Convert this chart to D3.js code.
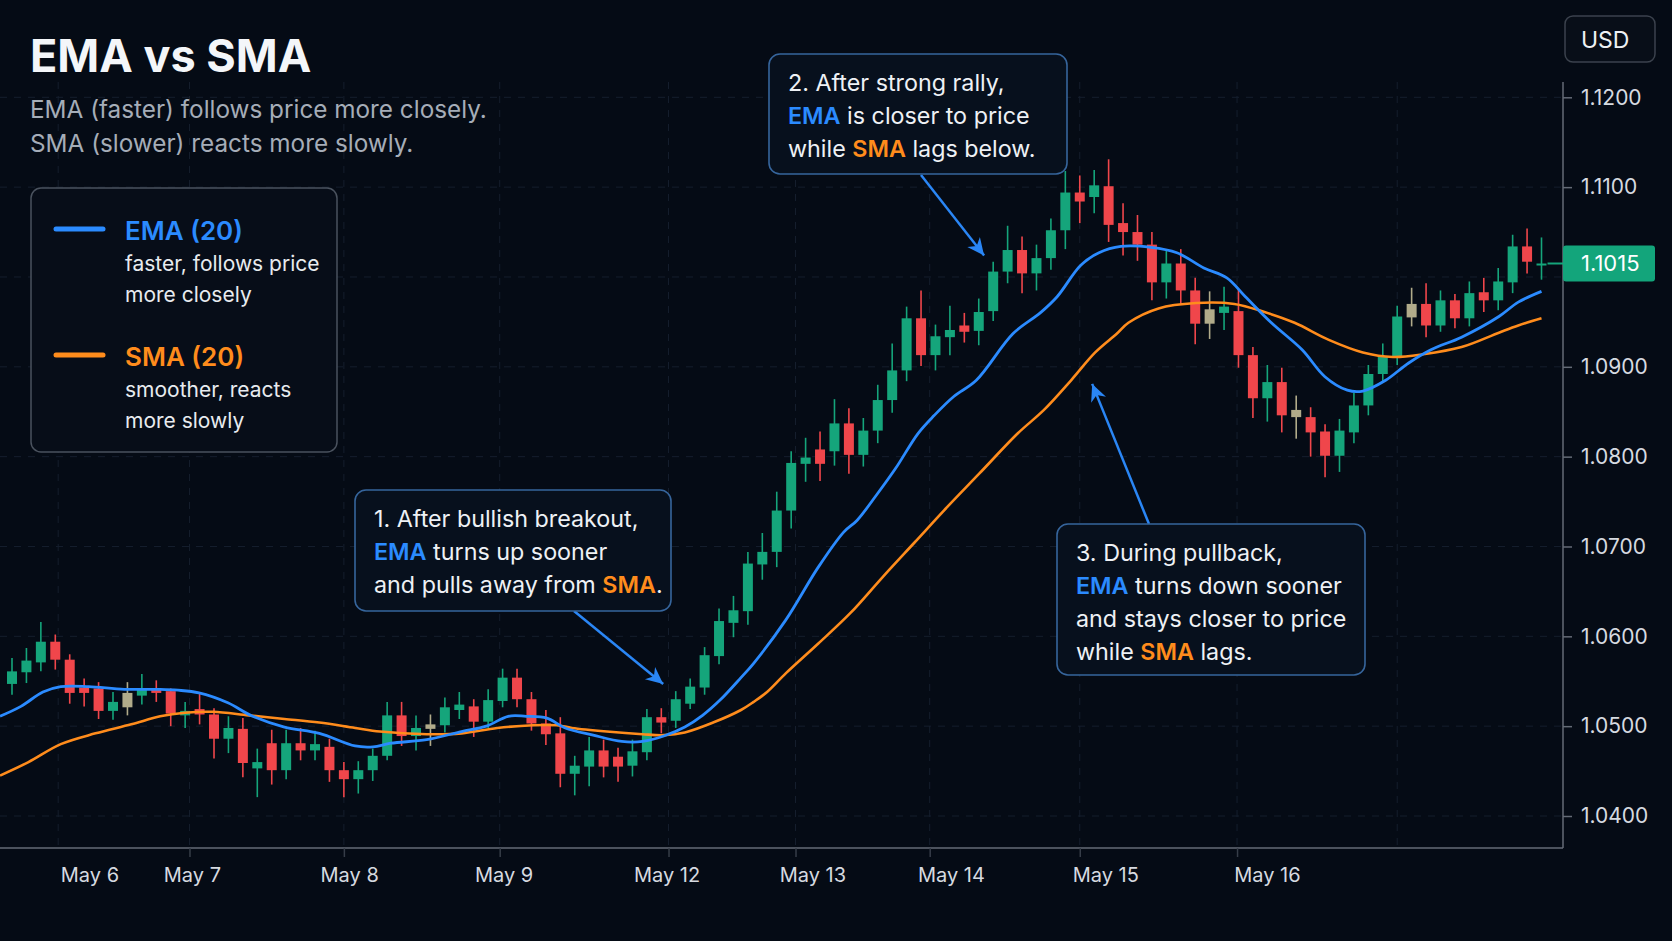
<!DOCTYPE html>
<html>
<head>
<meta charset="utf-8">
<script src="https://cdn.jsdelivr.net/npm/d3@7"></script>
<style>
  html, body { margin: 0; padding: 0; background: #050b15; }
  svg text { font-family: Inter, "Noto Sans", Roboto, sans-serif; }
</style>
</head>
<body>
<svg id="chart" width="1672" height="941"></svg>
<script>
// ---- data (EUR/USD style, 1 candle per session slot) ----
var opens = [1.0547,1.0560,1.0571,1.0594,1.0574,1.0543,1.0542,1.0517,1.0521,1.0534,
  1.0542,1.0539,1.0512,1.0519,1.0513,1.0486,1.0497,1.0453,1.0481,1.0451,
  1.0481,1.0473,1.0477,1.0451,1.0441,1.0451,1.0467,1.0512,1.0489,1.0502,
  1.0501,1.0518,1.0522,1.0505,1.0528,1.0554,1.0530,1.0503,1.0492,1.0447,
  1.0455,1.0473,1.0466,1.0456,1.0471,1.0510,1.0506,1.0525,1.0543,1.0578,
  1.0615,1.0628,1.0680,1.0694,1.0740,1.0792,1.0808,1.0806,1.0837,1.0802,
  1.0829,1.0863,1.0896,1.0954,1.0913,1.0933,1.0946,1.0940,1.0962,1.1006,
  1.1030,1.1004,1.1021,1.1052,1.1094,1.1089,1.1101,1.1060,1.1050,1.1036,
  1.0994,1.1015,1.0985,1.0948,1.0960,1.0962,1.0913,1.0865,1.0883,1.0852,
  1.0844,1.0828,1.0801,1.0827,1.0857,1.0892,1.0910,1.0955,1.0970,1.0946,
  1.0974,1.0954,1.0983,1.0974,1.0994,1.1034,1.1013];
var highs = [1.0576,1.0587,1.0616,1.0602,1.0580,1.0553,1.0549,1.0538,1.0549,1.0558,
  1.0551,1.0542,1.0527,1.0537,1.0520,1.0511,1.0509,1.0475,1.0496,1.0496,
  1.0498,1.0495,1.0486,1.0460,1.0461,1.0475,1.0527,1.0527,1.0512,1.0513,
  1.0532,1.0538,1.0530,1.0541,1.0564,1.0564,1.0538,1.0518,1.0510,1.0467,
  1.0488,1.0485,1.0476,1.0485,1.0519,1.0520,1.0539,1.0553,1.0588,1.0631,
  1.0645,1.0694,1.0715,1.0761,1.0806,1.0821,1.0828,1.0864,1.0854,1.0843,
  1.0880,1.0926,1.0967,1.0985,1.0947,1.0968,1.0960,1.0976,1.1017,1.1057,
  1.1045,1.1036,1.1065,1.1118,1.1113,1.1119,1.1131,1.1082,1.1069,1.1050,
  1.1031,1.1031,1.0999,1.0984,1.0989,1.0987,1.0922,1.0902,1.0899,1.0868,
  1.0855,1.0836,1.0842,1.0871,1.0902,1.0926,1.0968,1.0988,1.0993,1.0985,
  1.0981,1.0995,1.0999,1.1010,1.1047,1.1054,1.1044];
var lows = [1.0535,1.0548,1.0561,1.0563,1.0525,1.0522,1.0508,1.0507,1.0512,1.0524,
  1.0527,1.0500,1.0498,1.0502,1.0464,1.0470,1.0443,1.0421,1.0435,1.0441,
  1.0462,1.0462,1.0438,1.0421,1.0425,1.0439,1.0462,1.0478,1.0473,1.0478,
  1.0493,1.0508,1.0488,1.0498,1.0521,1.0521,1.0495,1.0479,1.0432,1.0423,
  1.0433,1.0443,1.0438,1.0444,1.0462,1.0492,1.0498,1.0519,1.0535,1.0569,
  1.0599,1.0613,1.0663,1.0677,1.0720,1.0772,1.0773,1.0790,1.0781,1.0789,
  1.0815,1.0849,1.0884,1.0901,1.0896,1.0913,1.0927,1.0924,1.0951,1.0993,
  1.0982,1.0985,1.1008,1.1031,1.1060,1.1071,1.1039,1.1024,1.1018,1.0974,
  1.0976,1.0970,1.0925,1.0931,1.0941,1.0899,1.0843,1.0839,1.0827,1.0820,
  1.0800,1.0777,1.0783,1.0815,1.0846,1.0882,1.0902,1.0945,1.0933,1.0939,
  1.0943,1.0945,1.0961,1.0963,1.0982,1.1004,1.0997];
var closes = [1.0561,1.0573,1.0594,1.0574,1.0537,1.0537,1.0517,1.0527,1.0537,1.0542,
  1.0537,1.0514,1.0517,1.0513,1.0486,1.0498,1.0459,1.0460,1.0451,1.0481,
  1.0473,1.0480,1.0451,1.0441,1.0451,1.0467,1.0512,1.0489,1.0498,1.0497,
  1.0521,1.0524,1.0505,1.0529,1.0554,1.0530,1.0503,1.0491,1.0447,1.0456,
  1.0473,1.0455,1.0455,1.0472,1.0510,1.0504,1.0530,1.0544,1.0579,1.0617,
  1.0629,1.0681,1.0694,1.0740,1.0793,1.0799,1.0792,1.0837,1.0802,1.0829,
  1.0863,1.0896,1.0954,1.0913,1.0934,1.0941,1.0939,1.0961,1.1006,1.1030,
  1.1004,1.1021,1.1052,1.1094,1.1084,1.1102,1.1058,1.1050,1.1036,1.0994,
  1.1015,1.0985,1.0948,1.0964,1.0967,1.0913,1.0865,1.0883,1.0846,1.0844,
  1.0827,1.0801,1.0829,1.0857,1.0892,1.0912,1.0956,1.0970,1.0946,1.0974,
  1.0954,1.0982,1.0974,1.0995,1.1034,1.1017,1.1015];
// candles drawn in the neutral khaki tone
var mutedCandles = [8, 29, 83, 89, 97];

// moving averages as traced: [candle index, price]
var emaPts = [[-0.83,1.0511],[0.62,1.0522],[2.14,1.0538],[3.38,1.0544],[5.31,1.0544],[7.79,1.0541],
  [10.27,1.0541],[11.51,1.0540],[12.96,1.0537],[14.96,1.0526],[16.68,1.0511],[18.88,1.0499],
  [21.3,1.0492],[23.78,1.0478],[25.02,1.0477],[26.26,1.0481],[28.74,1.0485],[31.15,1.0494],
  [32.87,1.0500],[34.39,1.0511],[35.63,1.0511],[37.07,1.0509],[38.34,1.0498],[40.28,1.0490],
  [42.26,1.0483],[43.7,1.0483],[45.17,1.0489],[46.63,1.0499],[47.86,1.0512],[49.07,1.0529],
  [50.52,1.0554],[51.4,1.0570],[53.62,1.0618],[55.88,1.0677],[57.64,1.0716],[58.56,1.0729],
  [59.9,1.0757],[61.24,1.0787],[62.8,1.0826],[63.92,1.0846],[65.27,1.0867],[66.83,1.0885],
  [69.38,1.0937],[71.26,1.0960],[72.43,1.0978],[74.07,1.1013],[75.33,1.1027],[76.85,1.1034],
  [78.93,1.1033],[80.73,1.1027],[82.6,1.1010],[84.19,1.0999],[85.48,1.0978],[87.28,1.0949],
  [89.41,1.0919],[90.99,1.0889],[92.54,1.0874],[93.62,1.0873],[95.2,1.0885],[96.77,1.0904],
  [98.34,1.0919],[100.46,1.0933],[103.05,1.0956],[104.39,1.0972],[106,1.0984]];
var smaPts = [[-0.83,1.0445],[1.14,1.0460],[3.38,1.0480],[5.79,1.0492],[8.27,1.0502],[10.27,1.0511],
  [11.99,1.0515],[13.92,1.0516],[16.4,1.0512],[18.88,1.0508],[21.3,1.0504],[23.78,1.0498],
  [25.5,1.0494],[28.74,1.0491],[31.15,1.0492],[33.63,1.0498],[36.11,1.0501],[37.75,1.0501],
  [38.81,1.0498],[41.22,1.0494],[43.7,1.0491],[45.17,1.0490],[46.63,1.0493],[48.59,1.0504],
  [50.52,1.0518],[51.4,1.0527],[52.33,1.0538],[53.64,1.0559],[55.88,1.0592],[58.11,1.0626],
  [60.34,1.0666],[62.58,1.0705],[64.82,1.0744],[67.03,1.0781],[69.71,1.0826],[71.52,1.0852],
  [73.4,1.0885],[75.07,1.0916],[76.58,1.0937],[77.37,1.0949],[79.46,1.0965],[82.05,1.0971],
  [84.71,1.0970],[86.8,1.0961],[88.89,1.0949],[91.26,1.0930],[93.62,1.0916],[95.71,1.0911],
  [97.8,1.0914],[100.46,1.0922],[103.05,1.0938],[104.39,1.0946],[106,1.0954]];

var dayLabels = ["May 6", "May 7", "May 8", "May 9", "May 12", "May 13", "May 14", "May 15", "May 16"];
var dayLabelIdx = [5.4, 12.5, 23.4, 34.1, 45.4, 55.5, 65.1, 75.8, 87.0];
var sessionIdx = [3.2, 12.3, 23.0, 33.8, 45.5, 54.3, 63.6, 74.0, 84.9, 96.0];
var yTicks = [1.04, 1.05, 1.06, 1.07, 1.08, 1.09, 1.10, 1.11, 1.12];
var lastPrice = 1.1015;

var emaColor = "#2b8bff", smaColor = "#ff8c1c";
var upColor = "#15a57b", downColor = "#f0464b", mutedColor = "#b1ab8a";

var svg = d3.select("#chart");
svg.append("rect").attr("width", 1672).attr("height", 941).attr("fill", "#050b15");

var plotRight = 1563, plotTop = 82, plotBottom = 848;
var x = d3.scaleLinear().domain([0, closes.length - 1]).range([12, 1541.5]);
var y = d3.scaleLinear().domain([1.04, 1.12]).range([816, 97.3]);

var defs = svg.append("defs");
defs.append("clipPath").attr("id", "plotclip")
  .append("rect").attr("x", 0).attr("y", plotTop).attr("width", plotRight).attr("height", plotBottom - plotTop);
defs.append("marker").attr("id", "arrowhead")
  .attr("viewBox", "-18 -9 20 18").attr("refX", 0).attr("refY", 0)
  .attr("markerWidth", 20).attr("markerHeight", 18)
  .attr("markerUnits", "userSpaceOnUse").attr("orient", "auto")
  .append("path").attr("d", "M0,0 L-17,-8 L-12,0 L-17,8 Z").attr("fill", "#2a86f5");

// grid
var grid = svg.append("g");
grid.selectAll(".hg").data(yTicks).join("line")
  .attr("x1", 0).attr("x2", plotRight)
  .attr("y1", function(d) { return y(d); }).attr("y2", function(d) { return y(d); })
  .attr("stroke", "#151e2d").attr("stroke-dasharray", "7,7").attr("stroke-width", 1);
grid.selectAll(".vg").data(sessionIdx).join("line")
  .attr("x1", function(d) { return x(d); }).attr("x2", function(d) { return x(d); })
  .attr("y1", plotTop).attr("y2", plotBottom)
  .attr("stroke", "#151e2d").attr("stroke-dasharray", "7,7").attr("stroke-width", 1);

// candles
var candles = d3.range(closes.length).map(function(i) {
  return {i: i, o: opens[i], h: highs[i], l: lows[i], c: closes[i]};
});
function candleColor(d) {
  if (mutedCandles.indexOf(d.i) >= 0) return mutedColor;
  return d.c >= d.o ? upColor : downColor;
}
var plot = svg.append("g").attr("clip-path", "url(#plotclip)");
var bodyW = 10;
plot.selectAll(".wick").data(candles).join("line")
  .attr("x1", function(d) { return x(d.i); }).attr("x2", function(d) { return x(d.i); })
  .attr("y1", function(d) { return y(d.h); }).attr("y2", function(d) { return y(d.l); })
  .attr("stroke", candleColor).attr("stroke-width", 1.6);
plot.selectAll(".body").data(candles).join("rect")
  .attr("x", function(d) { return x(d.i) - bodyW / 2; })
  .attr("width", bodyW)
  .attr("y", function(d) { return y(Math.max(d.o, d.c)); })
  .attr("height", function(d) { return Math.max(2, Math.abs(y(d.o) - y(d.c))); })
  .attr("fill", candleColor);

// moving averages
var line = d3.line()
  .x(function(d) { return x(d[0]); })
  .y(function(d) { return y(d[1]); })
  .curve(d3.curveCatmullRom.alpha(0.5));
plot.append("path").datum(smaPts).attr("d", line)
  .attr("fill", "none").attr("stroke", smaColor).attr("stroke-width", 2.6);
plot.append("path").datum(emaPts).attr("d", line)
  .attr("fill", "none").attr("stroke", emaColor).attr("stroke-width", 2.8);

// axes
var axisColor = "#646b76";
svg.append("line").attr("x1", plotRight).attr("x2", plotRight).attr("y1", plotTop).attr("y2", plotBottom)
  .attr("stroke", axisColor).attr("stroke-width", 1.5);
svg.append("line").attr("x1", 0).attr("x2", plotRight).attr("y1", plotBottom).attr("y2", plotBottom)
  .attr("stroke", axisColor).attr("stroke-width", 1.5);

var yAxis = svg.append("g").attr("transform", "translate(" + plotRight + ",0)")
  .call(d3.axisRight(y).tickValues(yTicks).tickFormat(d3.format(".4f")).tickSize(9).tickPadding(9));
yAxis.select(".domain").remove();
yAxis.selectAll(".tick line").attr("stroke", axisColor).attr("stroke-width", 1.5);
yAxis.selectAll(".tick text").attr("fill", "#d6dae0").attr("font-size", 21)
  .style("font-family", "Inter, 'Noto Sans', sans-serif");
yAxis.selectAll(".tick").filter(function(d) { return d === 1.10; }).select("text").remove();

// session ticks under the axis (none on the last, unlabelled session)
var xAxis = svg.append("g").attr("transform", "translate(0," + plotBottom + ")")
  .call(d3.axisBottom(x).tickValues(sessionIdx.slice(1, -1)).tickFormat("").tickSize(9));
xAxis.select(".domain").remove();
xAxis.selectAll(".tick line").attr("stroke", "#363d48").attr("stroke-width", 1.5);

svg.append("g").selectAll("text").data(dayLabels).join("text")
  .attr("x", function(d, k) { return x(dayLabelIdx[k]); })
  .attr("y", 882)
  .attr("text-anchor", "middle")
  .attr("font-size", 20).attr("fill", "#d6dae0")
  .text(function(d) { return d; });

// last price marker
var lastY = y(lastPrice);
svg.append("line").attr("x1", x(closes.length - 1) + 6).attr("x2", plotRight)
  .attr("y1", lastY).attr("y2", lastY).attr("stroke", upColor).attr("stroke-width", 2);
svg.append("rect").attr("x", plotRight).attr("y", lastY - 18).attr("width", 92).attr("height", 36)
  .attr("rx", 3).attr("fill", "#13a57b");
svg.append("text").attr("x", 1581).attr("y", lastY).attr("dy", "0.35em")
  .attr("font-size", 22).attr("fill", "#ffffff").text(d3.format(".4f")(lastPrice));

// currency box
svg.append("rect").attr("x", 1565).attr("y", 16).attr("width", 90).attr("height", 46).attr("rx", 8)
  .attr("fill", "#080e18").attr("stroke", "#3b424d").attr("stroke-width", 1.5);
svg.append("text").attr("x", 1581).attr("y", 48).attr("font-size", 23).attr("fill", "#eef1f4").text("USD");

// title
svg.append("text").attr("x", 30).attr("y", 72).attr("font-size", 45).attr("font-weight", 700)
  .attr("fill", "#f4f6f9").text("EMA vs SMA");
svg.append("text").attr("x", 30).attr("y", 118).attr("font-size", 24.3).attr("fill", "#a5adb8")
  .text("EMA (faster) follows price more closely.");
svg.append("text").attr("x", 30).attr("y", 152).attr("font-size", 24.3).attr("fill", "#a5adb8")
  .text("SMA (slower) reacts more slowly.");

// legend
var legend = svg.append("g");
legend.append("rect").attr("x", 31).attr("y", 188).attr("width", 306).attr("height", 264).attr("rx", 10)
  .attr("fill", "#070d18").attr("stroke", "#4a525e").attr("stroke-width", 1.5);
var legendItems = [
  {name: "EMA (20)", color: emaColor, desc: ["faster, follows price", "more closely"]},
  {name: "SMA (20)", color: smaColor, desc: ["smoother, reacts", "more slowly"]}
];
legendItems.forEach(function(item, k) {
  var top = 229 + k * 126;
  legend.append("line").attr("x1", 56).attr("x2", 103).attr("y1", top).attr("y2", top)
    .attr("stroke", item.color).attr("stroke-width", 5).attr("stroke-linecap", "round");
  legend.append("text").attr("x", 125).attr("y", top + 11).attr("font-size", 26).attr("font-weight", 600)
    .attr("fill", item.color).text(item.name);
  item.desc.forEach(function(t, j) {
    legend.append("text").attr("x", 125).attr("y", top + 42 + j * 31).attr("font-size", 21)
      .attr("fill", "#e8ebef").text(t);
  });
});

// annotations
var notes = [
  {box: [355, 490, 316, 121], from: [574, 611], tip: [45.13, 1.0547],
   lines: [[["1. After bullish breakout,"]], [["EMA", "ema"], [" turns up sooner"]],
           [["and pulls away from "], ["SMA", "sma"], ["."]]]},
  {box: [769, 54, 298, 120], from: [921, 175], tip: [67.37, 1.1024],
   lines: [[["2. After strong rally,"]], [["EMA", "ema"], [" is closer to price"]],
           [["while "], ["SMA", "sma"], [" lags below."]]]},
  {box: [1057, 524, 308, 151], from: [1149, 524], tip: [74.86, 1.0881],
   lines: [[["3. During pullback,"]], [["EMA", "ema"], [" turns down sooner"]],
           [["and stays closer to price"]], [["while "], ["SMA", "sma"], [" lags."]]]}
];
var ann = svg.append("g");
notes.forEach(function(n) {
  ann.append("line").attr("x1", n.from[0]).attr("y1", n.from[1])
    .attr("x2", x(n.tip[0])).attr("y2", y(n.tip[1]))
    .attr("stroke", "#2a86f5").attr("stroke-width", 2.5).attr("marker-end", "url(#arrowhead)");
  ann.append("rect").attr("x", n.box[0]).attr("y", n.box[1]).attr("width", n.box[2]).attr("height", n.box[3])
    .attr("rx", 11).attr("fill", "#07101d").attr("stroke", "#36659c").attr("stroke-width", 1.6);
  n.lines.forEach(function(segs, j) {
    var t = ann.append("text").attr("x", n.box[0] + 19).attr("y", n.box[1] + 37 + j * 33)
      .attr("font-size", 23.3).attr("fill", "#eef1f5");
    segs.forEach(function(s) {
      var sp = t.append("tspan").text(s[0]);
      if (s[1] === "ema") sp.attr("fill", emaColor).attr("font-weight", 600);
      if (s[1] === "sma") sp.attr("fill", smaColor).attr("font-weight", 600);
    });
  });
});
</script>
</body>
</html>
